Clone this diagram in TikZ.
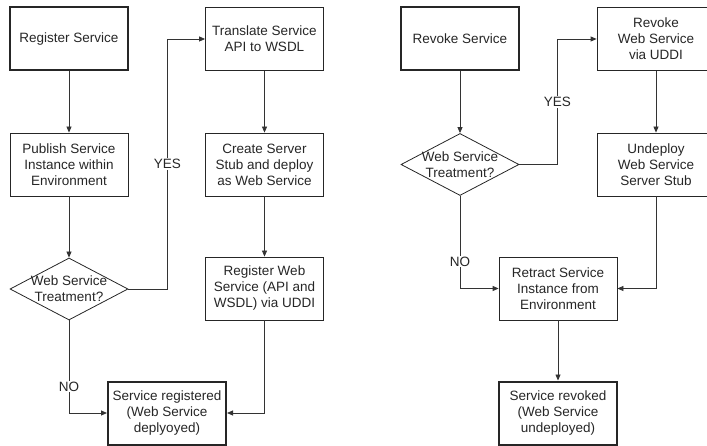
\documentclass[tikz,border=0pt]{standalone}
\usepackage{fontspec}
\setmainfont{Liberation Sans}
\usetikzlibrary{arrows.meta,shapes.geometric}
\tikzset{
	procbox/.style={draw=black!85, line width=0.8pt, rectangle, minimum width=118pt, minimum height=63pt, inner sep=0pt, align=center, font=\fontsize{13.5}{16}\selectfont, text=black!85},
	endbox/.style={procbox, line width=2pt},
	decision/.style={draw=black!85, line width=0.8pt, diamond, minimum width=118pt, minimum height=62pt, inner sep=0pt},
	flow/.style={draw=black!80, line width=0.8pt, -{Triangle[length=6pt,width=5pt]}},
	answer/.style={fill=white, inner sep=1pt, font=\fontsize{13.5}{16}\selectfont, text=black!85}
}

\begin{document}
\begin{tikzpicture}[x=1pt, y=-1pt]
		%%%%% START %%%%%
		\useasboundingbox (0, 0) rectangle (707, 446);
		
		% register side
		\node[endbox] (reg) at (69, 39) {Register Service};
		\node[procbox] (pub) at (69, 164.5) {Publish Service\\Instance within\\Environment};
		\node[decision, label={[align=center, font=\fontsize{13.5}{16}\selectfont, text=black!85]center:{Web Service\\Treatment?}}] (q1) at (69, 289) {};
		\node[procbox] (trans) at (264.5, 39) {Translate Service\\API to WSDL};
		\node[procbox] (stub) at (264.5, 164.5) {Create Server\\Stub and deploy\\as Web Service};
		\node[procbox] (uddi) at (264.5, 288.5) {Register Web\\Service (API and\\WSDL) via UDDI};
		\node[endbox] (regdone) at (167, 413) {Service registered\\(Web Service\\deplyoyed)};
		
		\draw[flow] (reg) -- (pub);
		\draw[flow] (pub) -- (q1);
		\draw[flow] (q1.east) -- ++(39, 0) |- (trans.west) node[answer, pos=0.25] {YES};
		\draw[flow] (trans) -- (stub);
		\draw[flow] (stub) -- (uddi);
		\draw[flow] (q1.south) |- (regdone.west) node[answer, pos=0.357] {NO};
		\draw[flow] (uddi.south) |- (regdone.east);
		
		% revoke side
		\node[endbox] (rev) at (460, 39) {Revoke Service};
		\node[decision, label={[align=center, font=\fontsize{13.5}{16}\selectfont, text=black!85]center:{Web Service\\Treatment?}}] (q2) at (460, 164.5) {};
		\node[procbox] (unreg) at (656, 39) {Revoke\\Web Service\\via UDDI};
		\node[procbox] (undep) at (656, 164.5) {Undeploy\\Web Service\\Server Stub};
		\node[procbox] (retract) at (558, 288.5) {Retract Service\\Instance from\\Environment};
		\node[endbox] (revdone) at (558, 413) {Service revoked\\(Web Service\\undeployed)};
		
		\draw[flow] (rev) -- (q2);
		\draw[flow] (q2.east) -- ++(38, 0) |- (unreg.west) node[answer, pos=0.25] {YES};
		\draw[flow] (unreg) -- (undep);
		\draw[flow] (q2.south) |- (retract.west) node[answer, pos=0.355] {NO};
		\draw[flow] (undep.south) |- (retract.east);
		\draw[flow] (retract) -- (revdone);
		
		%%%%% END %%%%%
\end{tikzpicture}
\end{document}
